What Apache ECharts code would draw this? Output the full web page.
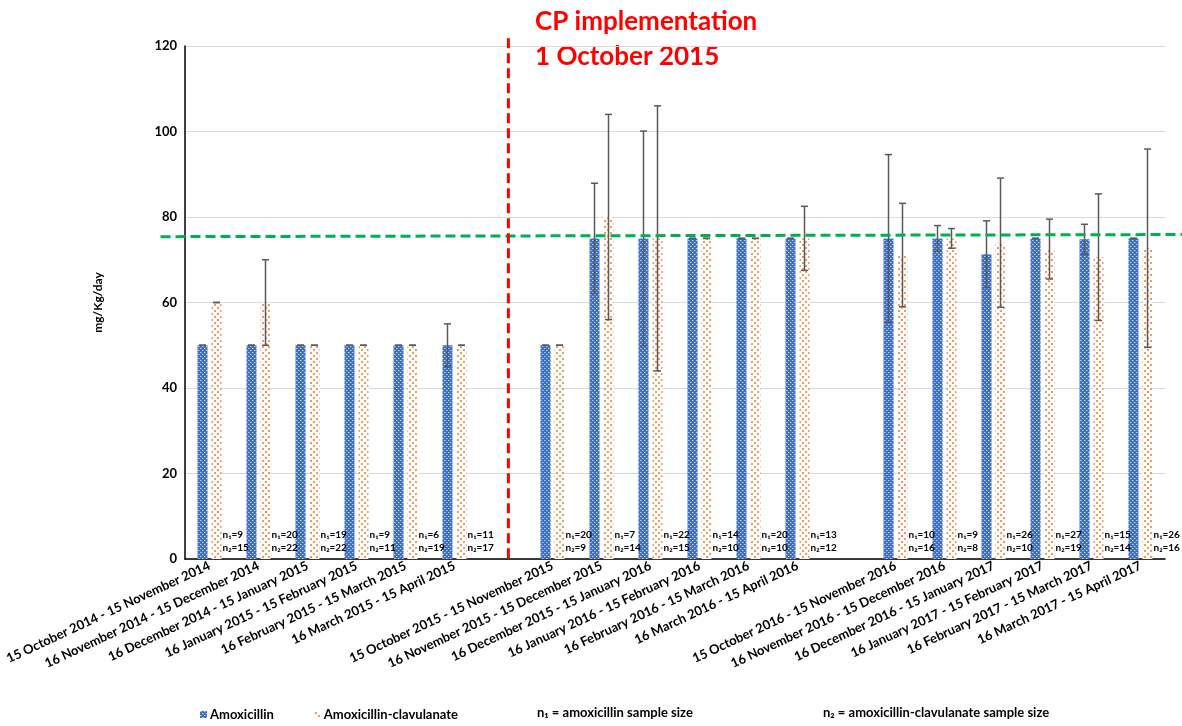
<!DOCTYPE html>
<html>
<head>
<meta charset="utf-8">
<script src="https://cdn.jsdelivr.net/npm/echarts@6/dist/echarts.min.js"></script>
<style>
  html, body { margin: 0; padding: 0; background: #fff; }
  #chart { width: 1182px; height: 726px; }
</style>
</head>
<body>
<div id="chart"></div>
<script>
// Monthly periods (empty strings separate the three study years)
const periods = [
  '15 October 2014 - 15 November 2014', '16 November 2014 - 15 December 2014',
  '16 December 2014 - 15 January 2015', '16 January 2015 - 15 February 2015',
  '16 February 2015 - 15 March 2015', '16 March 2015 - 15 April 2015', '',
  '15 October 2015 - 15 November 2015', '16 November 2015 - 15 December 2015',
  '16 December 2015 - 15 January 2016', '16 January 2016 - 15 February 2016',
  '16 February 2016 - 15 March 2016', '16 March 2016 - 15 April 2016', '',
  '15 October 2016 - 15 November 2016', '16 November 2016 - 15 December 2016',
  '16 December 2016 - 15 January 2017', '16 January 2017 - 15 February 2017',
  '16 February 2017 - 15 March 2017', '16 March 2017 - 15 April 2017'
];

// Mean dose, mg/Kg/day
const amoxicillin = [50, 50, 50, 50, 50, 50, null, 50, 75, 75, 75, 75, 75, null, 75, 75, 71.3, 75, 74.8, 75];
const amoxClav    = [60, 60, 50, 50, 50, 50, null, 50, 80, 75, 75, 75, 75, null, 71.1, 75, 74, 72.5, 70.6, 72.7];

// Standard deviation of the dose
const amoxicillinSD = [0, 0, 0, 0, 0, 5, null, 0, 12.9, 25.1, 0, 0, 0, null, 19.6, 3, 7.8, 0, 3.5, 0];
const amoxClavSD    = [0, 10, 0, 0, 0, 0, null, 0, 24, 31, 0, 0, 7.5, null, 12.1, 2.3, 15.1, 7, 14.8, 23.2];

// Sample sizes
const n1 = [9, 20, 19, 9, 6, 11, null, 20, 7, 22, 14, 20, 13, null, 10, 9, 26, 27, 15, 26];
const n2 = [15, 22, 22, 11, 19, 17, null, 9, 14, 15, 10, 10, 12, null, 16, 8, 10, 19, 14, 16];

// Y-axis ticks
const yTicks = [0, 20, 40, 60, 80, 100, 120];

// Recommended dose reference line (start/end on the 0..20 period scale) and CP implementation date
const targetDose = [[-0.5, 75.4], [20.35, 75.9]];
const cpImplementation = [[6.6, 121.8], [6.6, -1]];

const FONT = 'Lato, Carlito, "Open Sans", sans-serif';
const BAR_W = 10;
const BAR_GAP = 4;
const OFFSET = (BAR_W + BAR_GAP) / 2;

// Fill patterns for the two series
function bluePattern() {
  const c = document.createElement('canvas');
  c.width = 4; c.height = 4;
  const g = c.getContext('2d');
  g.fillStyle = '#3f6fc6';
  g.fillRect(0, 0, 4, 4);
  g.fillStyle = '#b9ccef';
  g.fillRect(0, 0, 1, 1);
  g.fillRect(2, 2, 1, 1);
  g.fillStyle = '#7f9fdc';
  g.fillRect(1, 0, 1, 1);
  g.fillRect(3, 2, 1, 1);
  return c;
}
function orangePattern() {
  const c = document.createElement('canvas');
  c.width = 6; c.height = 6;
  const g = c.getContext('2d');
  g.fillStyle = '#ffffff';
  g.fillRect(0, 0, 6, 6);
  g.fillStyle = '#f29a5c';
  g.fillRect(1, 1, 2, 2);
  g.fillRect(4, 4, 2, 2);
  return c;
}

const bluePat = { image: bluePattern(), repeat: 'repeat' };
const orangePat = { image: orangePattern(), repeat: 'repeat' };

function errorData(means, sds) {
  return means.map((m, i) => (m == null ? null : [i, m, sds[i]])).filter(d => d);
}

function errorRenderer(shift) {
  return function (params, api) {
    const i = api.value(0), m = api.value(1), sd = api.value(2);
    const top = api.coord([i, m + sd]);
    const bot = api.coord([i, m - sd]);
    const x = top[0] + shift;
    const cap = 3.5;
    const style = { stroke: '#595959', lineWidth: 1.5 };
    const children = [
      { type: 'line', shape: { x1: x - cap, y1: top[1], x2: x + cap, y2: top[1] }, style },
      { type: 'line', shape: { x1: x - cap, y1: bot[1], x2: x + cap, y2: bot[1] }, style }
    ];
    if (sd > 0) {
      children.push({ type: 'line', shape: { x1: x, y1: top[1], x2: x, y2: bot[1] }, style });
    }
    return { type: 'group', children };
  };
}

// Dashed annotation segment drawn from two data points on the 0..20 scale
function segmentRenderer(color) {
  return function (params, api) {
    const a = api.coord([api.value(0), api.value(1)]);
    const b = api.coord([api.value(2), api.value(3)]);
    return {
      type: 'line',
      shape: { x1: a[0], y1: a[1], x2: b[0], y2: b[1] },
      style: { stroke: color, lineWidth: 3, lineDash: [10, 5] }
    };
  };
}

const sizeData = n1.map((v, i) => (v == null ? null : [i, 0, v, n2[i]])).filter(d => d);

const chart = echarts.init(document.getElementById('chart'), null, { renderer: 'canvas' });

chart.setOption({
  animation: false,
  textStyle: { fontFamily: FONT },
  grid: { left: 185, right: 17, top: 46, bottom: 167 },
  legend: {
    left: 195, top: 703,
    itemWidth: 7, itemHeight: 7, itemGap: 40,
    icon: 'rect',
    data: ['Amoxicillin', 'Amoxicillin-clavulanate'],
    textStyle: { fontFamily: FONT, fontWeight: 'bold', fontSize: 13, color: '#000', padding: [0, 0, 0, -2] }
  },
  xAxis: [
    {
      type: 'category',
      data: periods,
      axisLine: { lineStyle: { color: '#000', width: 1.5 } },
      axisTick: { show: false },
      axisLabel: {
        interval: 0, rotate: 25, margin: 6,
        fontFamily: FONT, fontWeight: 'bold', fontSize: 13, color: '#000'
      }
    },
    { type: 'value', min: 0, max: 20, show: false }
  ],
  yAxis: {
    type: 'value', min: 0, max: 120, interval: 20,
    name: 'mg/Kg/day', nameLocation: 'middle', nameGap: 81, nameRotate: 90,
    nameTextStyle: { fontFamily: FONT, fontWeight: 'bold', fontSize: 12, color: '#000' },
    axisLine: { show: true, lineStyle: { color: '#000', width: 1.5 } },
    axisTick: { show: false },
    axisLabel: {
      fontFamily: FONT, fontWeight: 'bold', fontSize: 13, color: '#000', margin: 8,
      formatter: v => (yTicks.includes(v) ? String(v) : '')
    },
    splitLine: { lineStyle: { color: '#d9d9d9', width: 1 } }
  },
  graphic: [
    {
      type: 'text', left: 535, top: 4,
      style: {
        text: 'CP implementation\n1 October 2015',
        fontFamily: FONT, fontWeight: 'bold', fontSize: 26, lineHeight: 35, fill: '#ff0000'
      }
    },
    {
      type: 'text', left: 537, top: 706,
      style: { text: 'n₁ = amoxicillin sample size', fontFamily: FONT, fontWeight: 'bold', fontSize: 13, fill: '#000' }
    },
    {
      type: 'text', left: 823, top: 706,
      style: { text: 'n₂ = amoxicillin-clavulanate sample size', fontFamily: FONT, fontWeight: 'bold', fontSize: 13, fill: '#000' }
    }
  ],
  series: [
    {
      name: 'Amoxicillin', type: 'bar', data: amoxicillin,
      barWidth: BAR_W, barGap: (BAR_GAP / BAR_W * 100) + '%',
      itemStyle: { color: bluePat }
    },
    {
      name: 'Amoxicillin-clavulanate', type: 'bar', data: amoxClav,
      barWidth: BAR_W,
      itemStyle: { color: orangePat }
    },
    {
      type: 'custom', name: 'amoxSD', renderItem: errorRenderer(-OFFSET),
      data: errorData(amoxicillin, amoxicillinSD), z: 5, silent: true
    },
    {
      type: 'custom', name: 'clavSD', renderItem: errorRenderer(OFFSET),
      data: errorData(amoxClav, amoxClavSD), z: 5, silent: true
    },
    {
      type: 'custom', name: 'sizes', data: sizeData, z: 6, silent: true,
      renderItem: function (params, api) {
        const p = api.coord([api.value(0), 0]);
        const x = p[0] + OFFSET + BAR_W / 2 + 1;
        const st = { fontFamily: FONT, fontWeight: 'bold', fontSize: 10, fill: '#000', textVerticalAlign: 'middle' };
        return {
          type: 'group', children: [
            { type: 'text', x: x, y: p[1] - 24, style: Object.assign({ text: 'n₁=' + api.value(2) }, st) },
            { type: 'text', x: x, y: p[1] - 11, style: Object.assign({ text: 'n₂=' + api.value(3) }, st) }
          ]
        };
      }
    },
    {
      type: 'custom', name: 'target', xAxisIndex: 1, clip: false, silent: true, z: 7,
      data: [[targetDose[0][0], targetDose[0][1], targetDose[1][0], targetDose[1][1]]],
      renderItem: segmentRenderer('#00b050')
    },
    {
      type: 'custom', name: 'cp', xAxisIndex: 1, clip: false, silent: true, z: 7,
      data: [[cpImplementation[0][0], cpImplementation[0][1], cpImplementation[1][0], cpImplementation[1][1]]],
      renderItem: segmentRenderer('#ff0000')
    }
  ]
});
</script>
</body>
</html>
